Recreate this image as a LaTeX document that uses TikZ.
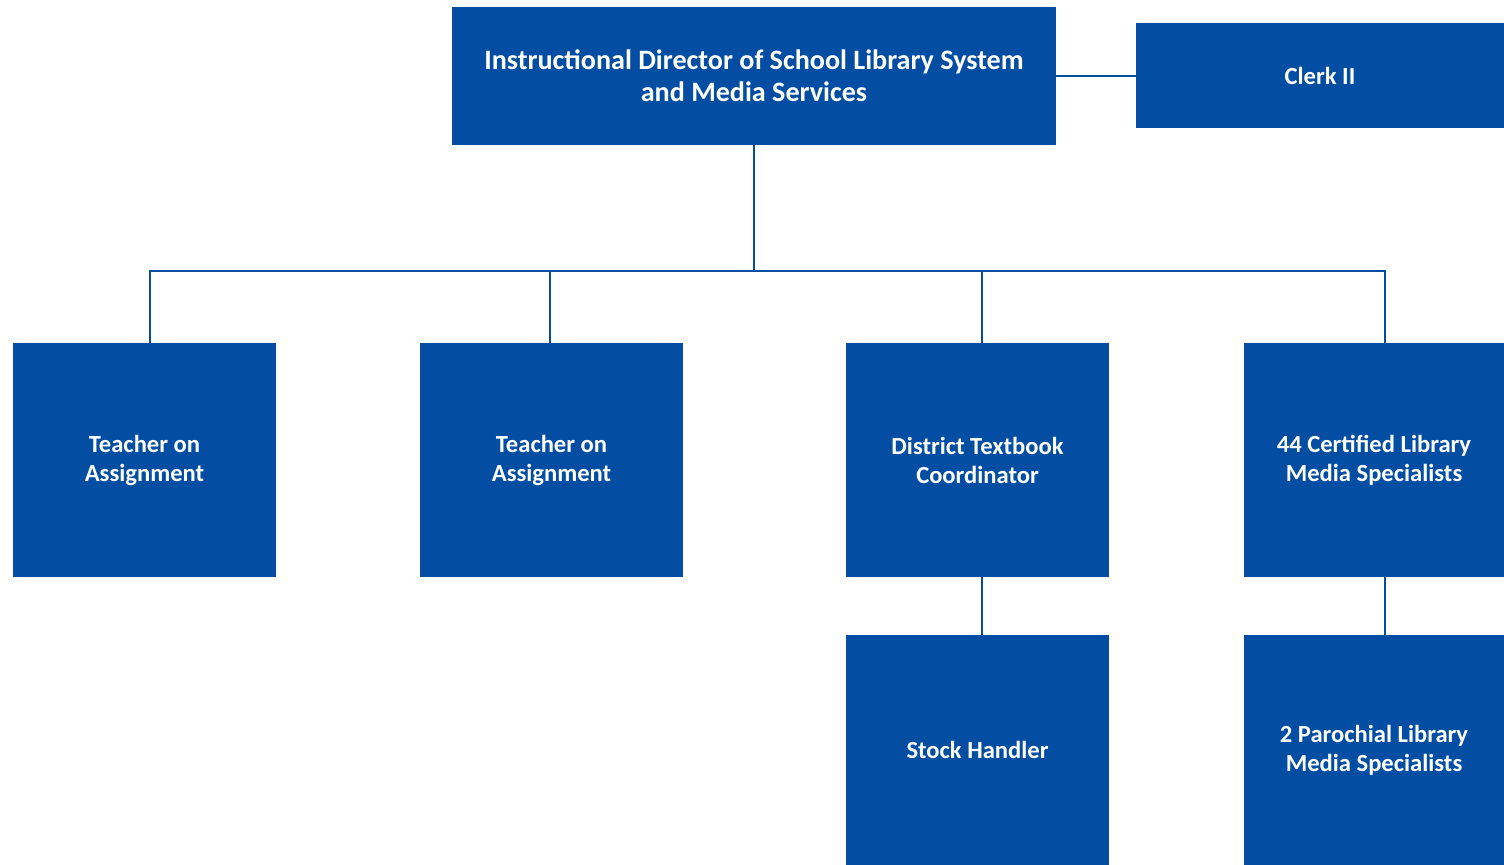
\documentclass[tikz,border=0pt]{standalone}
\usepackage{fontspec}
\setmainfont{Carlito}
\definecolor{orgblue}{HTML}{034EA2}
\begin{document}
\begin{tikzpicture}[x=0.02cm,y=-0.02cm,
	post/.style={fill=orgblue,text=white,font=\bfseries\fontsize{14}{16.5}\selectfont,align=center,inner sep=0pt,minimum width=263*0.02cm,minimum height=234*0.02cm},
	link/.style={orgblue,line width=1.1pt}]
		
		\useasboundingbox (0,0) rectangle (1504,865);
		
		% top
		\node[post,minimum width=604*0.02cm,minimum height=138*0.02cm,font=\bfseries\fontsize{16}{18.2}\selectfont] (dir) at (754,76) {Instructional Director of School Library System\\and Media Services};
		\node[post,minimum width=368*0.02cm,minimum height=105*0.02cm] (clerk) at (1320,76) {Clerk II};
		
		% second row
		\node[post] (toa1) at (144.5,460) {Teacher on\\Assignment};
		\node[post] (toa2) at (551.5,460) {Teacher on\\Assignment};
		\node[post] (dtc) at (977.5,460) {District Textbook\\Coordinator};
		\node[post,minimum width=260*0.02cm] (cert) at (1374,460) {44 Certified Library\\Media Specialists};
		
		% third row
		\node[post,minimum height=230*0.02cm] (stock) at (977.5,750) {Stock Handler};
		\node[post,minimum width=260*0.02cm,minimum height=230*0.02cm] (paro) at (1374,750) {2 Parochial Library\\Media Specialists};
		
		\coordinate (bus) at (754,271);
		
		\draw[link] (dir.east) -- (clerk.west);
		\draw[link] (dir.south) -- (bus);
		\draw[link] ([xshift=0.11cm]toa1.north) |- (bus);
		\draw[link] ([xshift=-0.03cm]toa2.north) |- (bus);
		\draw[link] ([xshift=0.09cm]dtc.north) |- (bus);
		\draw[link] ([xshift=0.22cm]cert.north) |- (bus);
		
		\draw[link] ([xshift=0.09cm]dtc.south) -- ([xshift=0.09cm]stock.north);
		\draw[link] ([xshift=0.22cm]cert.south) -- ([xshift=0.22cm]paro.north);
		
	\end{tikzpicture}
\end{document}
